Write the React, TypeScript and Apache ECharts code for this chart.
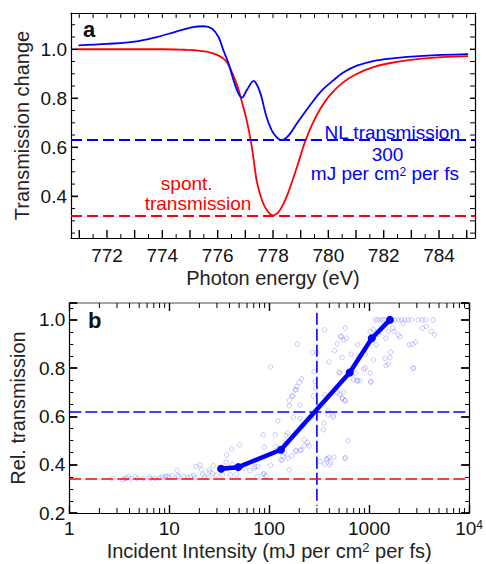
import React, { useEffect, useRef } from "react";
import * as echarts from "echarts";

// ---------- panel a : transmission spectra ----------
const spontEnergy = [770.95, 772, 773, 774, 774.8, 775.2, 775.6, 776.0, 776.3, 776.5, 776.7, 776.9, 777.05, 777.2, 777.3, 777.42, 777.6, 777.78, 778.0, 778.2, 778.38, 778.56, 778.75, 778.98, 779.15, 779.4, 779.7, 780.05, 780.5, 781.0, 781.6, 782.2, 783.4, 785.05];
const spontTrans = [1.0, 1.0, 1.0, 1.0, 0.998, 0.996, 0.99, 0.976, 0.952, 0.91, 0.855, 0.775, 0.71, 0.625, 0.55, 0.458, 0.385, 0.343, 0.322, 0.336, 0.37, 0.418, 0.48, 0.56, 0.62, 0.69, 0.755, 0.812, 0.862, 0.898, 0.926, 0.943, 0.962, 0.972];
const nlEnergy = [770.97, 772, 773, 773.8, 774.5, 775.1, 775.5, 775.8, 776.03, 776.2, 776.4, 776.57, 776.75, 776.88, 777.05, 777.3, 777.53, 777.75, 777.95, 778.12, 778.3, 778.45, 778.62, 778.86, 779.1, 779.46, 779.82, 780.18, 780.54, 781.03, 781.62, 782.23, 783.43, 785.05];
const nlTrans = [1.016, 1.022, 1.031, 1.05, 1.072, 1.09, 1.094, 1.084, 1.05, 0.998, 0.94, 0.875, 0.82, 0.803, 0.833, 0.871, 0.825, 0.73, 0.67, 0.643, 0.629, 0.636, 0.656, 0.697, 0.735, 0.79, 0.838, 0.873, 0.905, 0.933, 0.952, 0.962, 0.973, 0.98];
const nlLevelA = 0.625;
const spontLevelA = 0.322;
const energyTickLabels = [772, 774, 776, 778, 780, 782, 784];
const transTickLabels = [0.4, 0.6, 0.8, 1.0];

// ---------- panel b : relative transmission vs intensity ----------
const avgIntensity = [33, 49, 131, 640, 1064, 1614];
const avgTrans = [0.383, 0.39, 0.462, 0.782, 0.924, 1.0];
const nlLevelB = 0.62;
const spontLevelB = 0.342;
const thresholdIntensity = 300;
const shots: [number, number][] = [
  [2.7, 0.343], [3.4, 0.339], [3.6, 0.342], [3.75, 0.345], [3.9, 0.35], [4.1, 0.341], [4.6, 0.35], [4.8, 0.343], [5.5, 0.342], [6.3, 0.349], [6.5, 0.343], [7.2, 0.343], [8.0, 0.346], [8.5, 0.349], [9.1, 0.35], [9.3, 0.353], [9.8, 0.35], [10.7, 0.354], [12, 0.376], [12.2, 0.354], [12.5, 0.35], [14, 0.35], [15.3, 0.347], [16.5, 0.351], [17.6, 0.355], [18, 0.346], [18.5, 0.393], [20.3, 0.399], [21, 0.379], [21.6, 0.361], [22.6, 0.35], [24.3, 0.347], [25.1, 0.379], [25.5, 0.37], [27.1, 0.363], [27.7, 0.396], [29.4, 0.357], [34, 0.358], [37, 0.411], [37.5, 0.44], [39, 0.386], [42, 0.465], [41, 0.358], [42.7, 0.4], [47, 0.361], [50.5, 0.483],
  [57, 0.386], [64, 0.376], [72, 0.393], [76, 0.351], [87, 0.362],
  [103, 0.805], [191, 0.899], [359, 0.959], [271, 0.865], [299, 0.865], [517, 0.931], [479, 0.901], [451, 0.872], [396, 0.826], [498, 0.783], [557, 0.917], [211, 0.756], [200, 0.741], [189, 0.724], [182, 0.71], [169, 0.685], [159, 0.665], [203, 0.648], [174, 0.597], [203, 0.592], [122, 0.582], [286, 0.745], [292, 0.717], [277, 0.685], [359, 0.69], [479, 0.699], [537, 0.676], [579, 0.666], [390, 0.607], [437, 0.597], [353, 0.572], [348, 0.545], [87, 0.524], [115, 0.524], [153, 0.531], [147, 0.52], [89, 0.472], [115, 0.476], [144, 0.487], [224, 0.503], [242, 0.492], [251, 0.478], [224, 0.478], [205, 0.462], [185, 0.455], [153, 0.427], [135, 0.418], [103, 0.398], [77, 0.393], [71, 0.386], [89, 0.361], [93, 0.354], [159, 0.379], [323, 0.414], [373, 0.423], [396, 0.43], [444, 0.432], [359, 0.403], [405, 0.4], [579, 0.43],
  [131, 0.42], [137, 0.437], [142, 0.448], [168, 0.437], [185, 0.459], [208, 0.459], [159, 0.644], [172, 0.685], [185, 0.71], [281, 0.786], [261, 0.593], [292, 0.6], [411, 0.41], [381, 0.425], [611, 0.5], [570, 0.425], [387, 0.623], [437, 0.604], [555, 0.703],
  [1153, 1.0], [1212, 1.0], [1285, 1.0], [1367, 1.0], [1440, 1.0], [1615, 1.0], [1809, 1.0], [1955, 1.0], [2109, 1.0], [2275, 1.0], [2455, 1.0], [2649, 1.0], [3085, 1.0], [3404, 1.0], [3668, 1.0], [4343, 1.0],
  [579, 0.966], [525, 0.931], [592, 0.924], [537, 0.844], [509, 0.78], [767, 0.897], [785, 0.848], [914, 0.8], [914, 0.858], [1024, 0.952], [1105, 0.959], [1173, 0.897], [1238, 0.941], [1473, 0.924], [1556, 0.952], [1719, 0.966], [1770, 0.952], [1955, 0.938], [2028, 0.93], [2189, 0.986], [1440, 0.841], [1615, 0.844], [1641, 0.866], [1473, 0.811], [1556, 0.817], [2512, 0.897], [2711, 0.899], [2920, 0.908], [2790, 0.8], [3404, 0.966], [3726, 0.972], [4180, 0.952], [4512, 0.938], [727, 0.78], [767, 0.748], [807, 0.748], [700, 0.752], [1024, 0.78], [1040, 0.742], [659, 0.858], [509, 0.692], [566, 0.665], [537, 0.676],
  [649, 0.776], [755, 0.749], [881, 0.796], [1105, 0.834], [2749, 0.8], [1040, 0.745],
];
const logDecades = [1, 10, 100, 1000];
const logMinorSteps = [2, 3, 4, 5, 6, 7, 8, 9];

const FONT = "'Liberation Sans', Arial, Helvetica, sans-serif";
const BLUE = "#0000ff";
const RED = "#ff0000";

const near = (a: number, b: number) => Math.abs(a - b) < 1e-6;

export default function App() {
  const ref = useRef<HTMLDivElement>(null);
  useEffect(() => {
    const chart = echarts.init(ref.current!, null, { renderer: "svg" });
    const isTenth2 = (v: number) => Math.abs(v * 5 - Math.round(v * 5)) < 1e-6;
    const logMinor: number[] = [];
    logDecades.forEach((d) => logMinorSteps.forEach((s) => logMinor.push(d * s)));
    // tick positions of panel a: every 0.5 eV and every 0.05 in transmission
    const energyTicks: number[] = [];
    for (let k = 0; k <= 28; k++) energyTicks.push(771 + k * 0.5);
    const transTicks: number[] = [];
    for (let k = 0; k <= 17; k++) transTicks.push(Math.round((0.25 + k * 0.05) * 100) / 100);

    const tickLine = { color: "#000", width: 1.4 };
    const minorLine = { color: "#000", width: 1 };
    const lineAx = (color = "#000", width = 1.2) => ({ show: true, onZero: false, lineStyle: { color, width } });
    const seg = (x1: number, y1: number, x2: number, y2: number, w: number) => ({
      type: "line", shape: { x1, y1, x2, y2 }, style: { stroke: "#000", lineWidth: w },
    });
    const lbl = (x: number, y: number, text: string, align: string, va: string) => ({
      type: "text", x, y, style: { text, fill: "#111", font: `19px ${FONT}`, align, verticalAlign: va },
    });

    const option: any = {
      animation: false,
      backgroundColor: "#fff",
      textStyle: { fontFamily: FONT },
      grid: [
        { left: 71, top: 13, width: 404, height: 225 },
        { left: 69, top: 303, width: 404, height: 210 },
      ],
      xAxis: [
        {
          gridIndex: 0, type: "value", min: 770.7, max: 785.3, position: "bottom",
          axisLine: lineAx(), axisTick: { show: false }, axisLabel: { show: false }, splitLine: { show: false },
          name: "Photon energy (eV)", nameLocation: "middle", nameGap: 30,
          nameTextStyle: { fontSize: 20, color: "#222", fontFamily: FONT },
        },
        {
          gridIndex: 0, type: "value", min: 770.7, max: 785.3, position: "top",
          axisLine: lineAx(), axisTick: { show: false }, axisLabel: { show: false }, splitLine: { show: false },
        },
        {
          gridIndex: 1, type: "log", logBase: 10, min: 1, max: 10000, position: "bottom",
          axisLine: lineAx(),
          axisTick: { show: true, inside: true, length: 8, lineStyle: tickLine },
          splitLine: { show: false },
          axisLabel: {
            margin: 6, fontSize: 19, color: "#111", fontFamily: FONT,
            formatter: (v: number) => {
              const r = Math.round(v);
              return r === 10000 ? "10{sup|4}" : String(r);
            },
            rich: { sup: { fontSize: 12, verticalAlign: "top", lineHeight: 12, color: "#111", fontFamily: FONT } },
          },
          name: "Incident Intensity (mJ per cm{sup|2} per fs)", nameLocation: "middle", nameGap: 28,
          nameTextStyle: {
            fontSize: 20, color: "#222", fontFamily: FONT,
            rich: { sup: { fontSize: 13, verticalAlign: "top", lineHeight: 13, color: "#222", fontFamily: FONT } },
          },
        },
        {
          gridIndex: 1, type: "log", logBase: 10, min: 1, max: 10000, position: "top",
          axisLine: lineAx("#888", 1.5),
          axisTick: { show: true, inside: true, length: 8, lineStyle: tickLine },
          splitLine: { show: false },
          axisLabel: { show: false },
        },
      ],
      yAxis: [
        {
          gridIndex: 0, type: "value", min: 0.23, max: 1.148, position: "left",
          axisLine: lineAx(), axisTick: { show: false }, axisLabel: { show: false }, splitLine: { show: false },
          name: "Transmission change", nameLocation: "middle", nameGap: 39,
          nameTextStyle: { fontSize: 20, color: "#222", fontFamily: FONT },
        },
        {
          gridIndex: 0, type: "value", min: 0.23, max: 1.148, position: "right",
          axisLine: lineAx(), axisTick: { show: false }, axisLabel: { show: false }, splitLine: { show: false },
        },
        {
          gridIndex: 1, type: "value", min: 0.2, max: 1.07, interval: 0.2, position: "left",
          axisLine: lineAx(),
          axisTick: { show: true, inside: true, length: 8, lineStyle: { color: "#000", width: 1.8 } },
          minorTick: { show: true, splitNumber: 4, length: 4, lineStyle: minorLine },
          splitLine: { show: false },
          axisLabel: {
            margin: 4, fontSize: 19, color: "#111", fontFamily: FONT,
            formatter: (v: number) => (isTenth2(v) ? v.toFixed(1) : ""),
          },
          name: "Rel. transmission", nameLocation: "middle", nameGap: 37,
          nameTextStyle: { fontSize: 20, color: "#222", fontFamily: FONT },
        },
        {
          gridIndex: 1, type: "value", min: 0.2, max: 1.07, interval: 0.2, position: "right",
          axisLine: lineAx(),
          axisTick: { show: true, inside: true, length: 8, lineStyle: { color: "#000", width: 1.8 } },
          minorTick: { show: true, splitNumber: 4, length: 4, lineStyle: minorLine },
          splitLine: { show: false },
          axisLabel: { show: false },
        },
      ],
      series: [
        // panel a axis ticks and labels, placed through the axis scale
        {
          type: "custom", xAxisIndex: 0, yAxisIndex: 0, silent: true, clip: false, z: 5,
          data: energyTicks.map((v) => [v, 0.5]),
          encode: { x: 0, y: 1 },
          renderItem: (params: any, api: any) => {
            const v = api.value(0);
            const p = api.coord([v, 0.5]);
            const cs = params.coordSys;
            const yb = cs.y + cs.height;
            const yt = cs.y;
            const major = near(v, Math.round(v));
            const children: any[] = [
              seg(p[0], yb, p[0], yb - (major ? 8 : 4), major ? 1.4 : 1),
              seg(p[0], yt, p[0], yt + 5, 1),
            ];
            if (energyTickLabels.some((l) => near(l, v))) children.push(lbl(p[0], yb + 8, String(Math.round(v)), "center", "top"));
            return { type: "group", children };
          },
        },
        {
          type: "custom", xAxisIndex: 0, yAxisIndex: 0, silent: true, clip: false, z: 5,
          data: transTicks.map((v) => [778, v]),
          encode: { x: 0, y: 1 },
          renderItem: (params: any, api: any) => {
            const v = api.value(1);
            const p = api.coord([778, v]);
            const cs = params.coordSys;
            const xl = cs.x;
            const xr = cs.x + cs.width;
            const major = transTickLabels.some((l) => near(l, v));
            const children: any[] = [
              seg(xl, p[1], xl + (major ? 7 : 4), p[1], major ? 1.6 : 1),
              seg(xr, p[1], xr - 5, p[1], major ? 1.4 : 1),
            ];
            if (major) children.push(lbl(xl - 4, p[1], v.toFixed(1), "right", "middle"));
            return { type: "group", children };
          },
        },
        {
          type: "line", xAxisIndex: 0, yAxisIndex: 0, smooth: 0.35, symbol: "none",
          data: spontEnergy.map((e, i) => [e, spontTrans[i]]),
          lineStyle: { color: RED, width: 1.8 },
          markLine: {
            silent: true, symbol: "none", label: { show: false },
            lineStyle: { color: RED, width: 2, type: [11, 5] },
            data: [{ yAxis: spontLevelA }],
          },
        },
        {
          type: "line", xAxisIndex: 0, yAxisIndex: 0, smooth: 0.35, symbol: "none",
          data: nlEnergy.map((e, i) => [e, nlTrans[i]]),
          lineStyle: { color: BLUE, width: 1.8 },
          markLine: {
            silent: true, symbol: "none", label: { show: false },
            lineStyle: { color: BLUE, width: 2, type: [11, 5] },
            data: [{ yAxis: nlLevelA }],
          },
        },
        {
          type: "scatter", xAxisIndex: 2, yAxisIndex: 2, symbol: "circle", symbolSize: 4.5,
          data: shots,
          itemStyle: { color: "rgba(255,255,255,0)", borderColor: "rgba(70,70,255,0.45)", borderWidth: 0.8 },
          markLine: {
            silent: true, symbol: "none", label: { show: false },
            data: [
              { yAxis: nlLevelB, lineStyle: { color: BLUE, width: 1.6, type: [12, 4] } },
              { yAxis: spontLevelB, lineStyle: { color: RED, width: 1.6, type: [12, 4] } },
            ],
          },
        },
        {
          type: "line", xAxisIndex: 2, yAxisIndex: 2, symbol: "none",
          data: [[thresholdIntensity, 1.03], [thresholdIntensity, 0.23]],
          lineStyle: { color: BLUE, width: 1.6, type: [12, 4] },
        },
        {
          type: "line", xAxisIndex: 2, yAxisIndex: 2, symbol: "circle", symbolSize: 8,
          data: avgIntensity.map((v, i) => [v, avgTrans[i]]),
          lineStyle: { color: BLUE, width: 4.5 },
          itemStyle: { color: BLUE },
          z: 4,
        },
        {
          type: "custom", xAxisIndex: 2, yAxisIndex: 2, silent: true, clip: false, z: 5,
          data: logMinor.map((v) => [v, 0.2]),
          encode: { x: 0, y: 1 },
          renderItem: (_p: any, api: any) => {
            const v = api.value(0);
            const pb = api.coord([v, 0.2]);
            const pt = api.coord([v, 1.07]);
            return {
              type: "group",
              children: [seg(pb[0], pb[1], pb[0], pb[1] - 5, 1), seg(pt[0], pt[1], pt[0], pt[1] + 5, 1)],
            };
          },
        },
      ],
      graphic: [
        { type: "text", x: 83, y: 29.5, style: { text: "a", fill: "#111", font: `bold 22px ${FONT}`, align: "left", verticalAlign: "middle" } },
        { type: "text", x: 88, y: 320.5, style: { text: "b", fill: "#111", font: `bold 22px ${FONT}`, align: "left", verticalAlign: "middle" } },
        { type: "text", x: 460, y: 132, style: { text: "NL transmission", fill: BLUE, font: `19px ${FONT}`, align: "right", verticalAlign: "middle", lineHeight: 15 } },
        { type: "text", x: 387.5, y: 154, style: { text: "300", fill: BLUE, font: `19px ${FONT}`, align: "center", verticalAlign: "middle", lineHeight: 14 } },
        {
          type: "text", x: 459, y: 173, style: {
            text: "mJ per cm{sup|2} per fs", fill: BLUE, font: `19px ${FONT}`, align: "right", verticalAlign: "middle", lineHeight: 14,
            rich: { sup: { fontSize: 12, verticalAlign: "top", lineHeight: 10, fill: BLUE, fontFamily: FONT } },
          },
        },
        { type: "text", x: 186.7, y: 183.5, style: { text: "spont.", fill: RED, font: `19px ${FONT}`, align: "center", verticalAlign: "middle", lineHeight: 15 } },
        { type: "text", x: 198, y: 203.5, style: { text: "transmission", fill: RED, font: `19px ${FONT}`, align: "center", verticalAlign: "middle", lineHeight: 15 } },
      ],
    };
    chart.setOption(option);
    return () => chart.dispose();
  }, []);
  return <div ref={ref} style={{ position: "absolute", left: 0, top: 0, width: 486, height: 564 }} />;
}
